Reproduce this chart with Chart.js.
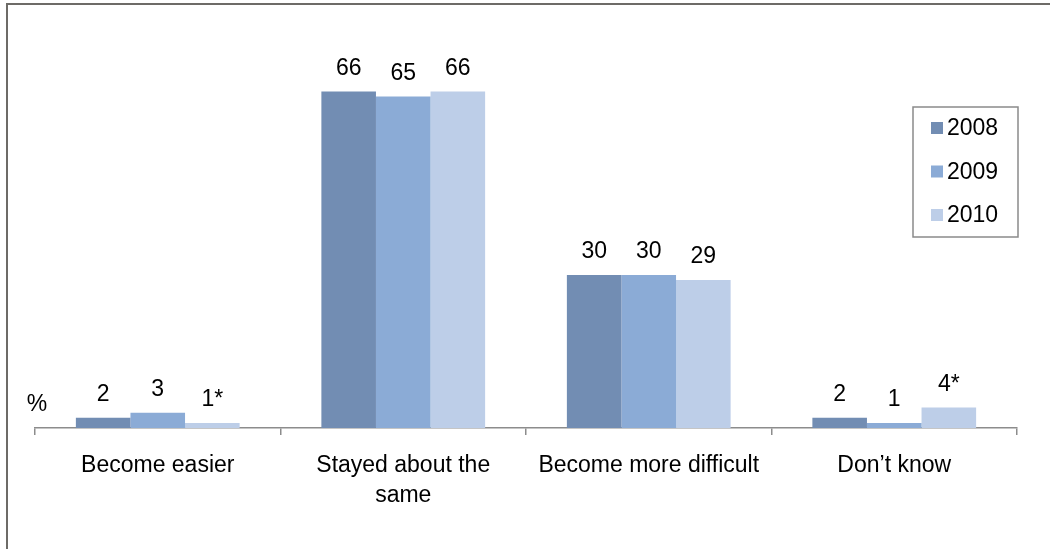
<!DOCTYPE html>
<html>
<head>
<meta charset="utf-8">
<script src="https://cdn.jsdelivr.net/npm/chart.js@4"></script>
<style>
  html, body { margin: 0; padding: 0; background: #fff; overflow: hidden; }
  #wrap { position: relative; width: 1050px; height: 549px; }
  #frame { position: absolute; left: 6px; top: 3px; width: 1100px; height: 600px; border: 2px solid #6d6b67; box-sizing: border-box; }
  canvas { position: absolute; left: 0; top: 0; }
</style>
</head>
<body>
<div id="wrap">
  <div id="frame"></div>
  <canvas id="chart" width="1050" height="549"></canvas>
</div>
<script>
  const categories = ['Become easier', ['Stayed about the', 'same'], 'Become more difficult', 'Don\u2019t know'];
  const years = ['2008', '2009', '2010'];
  const values2008 = [2, 66, 30, 2];
  const values2009 = [3, 65, 30, 1];
  const values2010 = [1, 66, 29, 4];
  // asterisk marks shown next to some of the values
  const notes2008 = ['', '', '', ''];
  const notes2009 = ['', '', '', ''];
  const notes2010 = ['*', '', '', '*'];
  const colors = ['#728db3', '#8babd6', '#bdcee8'];

  const fontSize = 23;
  const font = fontSize + 'px "Liberation Sans", Arial, sans-serif';

  // value labels above each bar, plus the "%" unit label
  const valueLabels = {
    id: 'valueLabels',
    afterDatasetsDraw(chart) {
      const ctx = chart.ctx;
      ctx.save();
      ctx.font = font;
      ctx.fillStyle = '#000';
      ctx.textAlign = 'center';
      ctx.textBaseline = 'middle';
      chart.data.datasets.forEach((ds, i) => {
        chart.getDatasetMeta(i).data.forEach((bar, j) => {
          ctx.fillText(ds.data[j] + ds.notes[j], bar.x, bar.y - 23);
        });
      });
      ctx.fillText('%', 37, 405);
      ctx.restore();
    }
  };

  // legend box sitting inside the plot on the right
  const boxLegend = {
    id: 'boxLegend',
    afterDraw(chart) {
      const ctx = chart.ctx;
      ctx.save();
      ctx.strokeStyle = '#8a8a8a';
      ctx.lineWidth = 1.5;
      ctx.strokeRect(913, 107, 105, 130);
      ctx.font = font;
      ctx.textBaseline = 'middle';
      chart.data.datasets.forEach((ds, i) => {
        const y = 128 + i * 43.5;
        ctx.fillStyle = ds.backgroundColor;
        ctx.fillRect(931, y - 6, 12, 12);
        ctx.fillStyle = '#000';
        ctx.fillText(ds.label, 947, y + 1);
      });
      ctx.restore();
    }
  };

  new Chart(document.getElementById('chart'), {
    type: 'bar',
    data: {
      labels: categories,
      datasets: [
        { label: years[0], data: values2008, notes: notes2008, backgroundColor: colors[0] },
        { label: years[1], data: values2009, notes: notes2009, backgroundColor: colors[1] },
        { label: years[2], data: values2010, notes: notes2010, backgroundColor: colors[2] }
      ]
    },
    options: {
      responsive: false,
      animation: false,
      categoryPercentage: 0.667,
      barPercentage: 1.0,
      layout: { padding: { left: 35, right: 33, top: 20, bottom: 0 } },
      plugins: {
        legend: { display: false },
        tooltip: { enabled: false }
      },
      scales: {
        y: { display: false, min: 0, max: 80 },
        x: {
          afterFit(scale) { scale.height = 121; },
          border: { display: true, color: '#8c8c8c', width: 1.5 },
          grid: {
            offset: true,
            drawOnChartArea: false,
            drawTicks: true,
            tickLength: 7,
            color: '#8c8c8c',
            lineWidth: 1.5
          },
          ticks: {
            color: '#000',
            padding: 16,
            maxRotation: 0,
            font: { family: '"Liberation Sans", Arial, sans-serif', size: fontSize, lineHeight: 1.3 }
          }
        }
      }
    },
    plugins: [valueLabels, boxLegend]
  });
</script>
</body>
</html>
